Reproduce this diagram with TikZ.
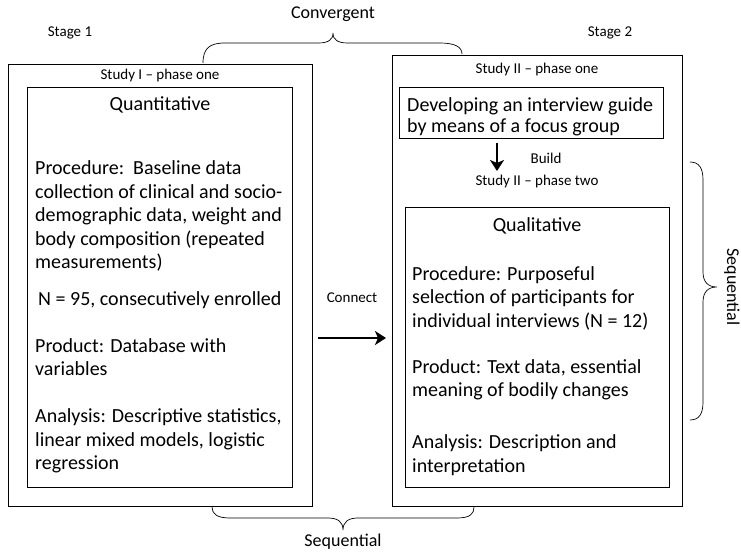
\documentclass[tikz,border=0pt]{standalone}
\usepackage{fontspec}
\setmainfont{Carlito}
\usetikzlibrary{arrows.meta}
\begin{document}
\begin{tikzpicture}[x=1pt,y=-1pt,
  box/.style={draw,line width=0.8pt},
  small/.style={font=\fontsize{15}{18}\selectfont},
  body/.style={font=\fontsize{20}{23.5}\selectfont,anchor=west,align=left,inner sep=0pt},
  head/.style={font=\fontsize{20}{23.5}\selectfont},
  label/.style={font=\fontsize{18}{21}\selectfont},
  brace/.style={line width=0.7pt},
  bigarrow/.style={line width=2.6pt,-{Stealth[length=11pt,width=14pt,inset=3pt]}}]
\useasboundingbox (0,0) rectangle (741,553);
% boxes
\draw[box] (8,64) rectangle (312,506);
\draw[box] (27,87) rectangle (292,487);
\draw[box] (392,55) rectangle (682,506);
\draw[box] (399,87) rectangle (663,138);
\draw[box] (405,207) rectangle (669,487);
% stage labels
\node[small] (st1) at (70,33) {Stage 1};
\node[small] (st2) at (610,33) {Stage 2};
\node[small] (s1) at (160,76) {Study I – phase one};
\node[small] (s2a) at (537,70) {Study II – phase one};
\node[small] (s2b) at (537,182) {Study II – phase two};
% left content
\node[head] (quant) at (160,105) {Quantitative};
\node[body] (proc1) at (35,216) {Procedure:\ \ Baseline data\\collection of clinical and socio-\\demographic data, weight and\\body composition (repeated\\measurements)};
\node[body] (n95) at (38,300) {N = 95, consecutively enrolled};
\node[body] (prod1) at (35,357) {Product: Database with\\variables};
\node[body] (ana1) at (35,441) {Analysis: Descriptive statistics,\\linear mixed models, logistic\\regression};
% right content
\node[body,font=\fontsize{20}{21.5}\selectfont] (dev) at (407,117) {Developing an interview guide\\by means of a focus group};
\node[small] (build) at (546,158) {Build};
\node[head] (qual) at (537,226) {Qualitative};
\node[body] (proc2) at (412,298) {Procedure: Purposeful\\selection of participants for\\individual interviews (N = 12)};
\node[body] (prod2) at (412,380) {Product: Text data, essential\\meaning of bodily changes};
\node[body] (ana2) at (412,455) {Analysis: Description and\\interpretation};
% arrows
\coordinate (b0) at (497,143);
\coordinate (b1) at (497,171);
\draw[bigarrow] (b0) -- (b1);
\coordinate (c0) at (318,338);
\coordinate (c1) at (386,338);
\draw[bigarrow] (c0) -- (c1);
\node[small] (conn) at (352,298) {Connect};
% convergent brace
\draw[brace] (203,63) .. controls (203,48) and (210,43) .. (225,43) -- (318,43)
  .. controls (328,43) and (333,40) .. (333,33)
  .. controls (333,40) and (338,43) .. (348,43) -- (440,43)
  .. controls (455,43) and (462,47) .. (462,54);
\node[label] (conv) at (333,14) {Convergent};
% bottom brace
\draw[brace] (212,507) .. controls (212,514) and (217,518) .. (230,518) -- (328,518)
  .. controls (338,518) and (343,522) .. (343,530)
  .. controls (343,522) and (348,518) .. (358,518) -- (457,518)
  .. controls (470,518) and (474,514) .. (474,507);
\node[label] (seq1) at (343,542) {Sequential};
% right brace
\draw[brace] (690,162) .. controls (699,162) and (703,168) .. (703,180) -- (703,272)
  .. controls (703,282) and (708,287) .. (717,287)
  .. controls (708,287) and (703,292) .. (703,302) -- (703,402)
  .. controls (703,414) and (699,420) .. (690,420);
\node[label,rotate=-90] (seq2) at (732,287) {Sequential};
\end{tikzpicture}
\end{document}
